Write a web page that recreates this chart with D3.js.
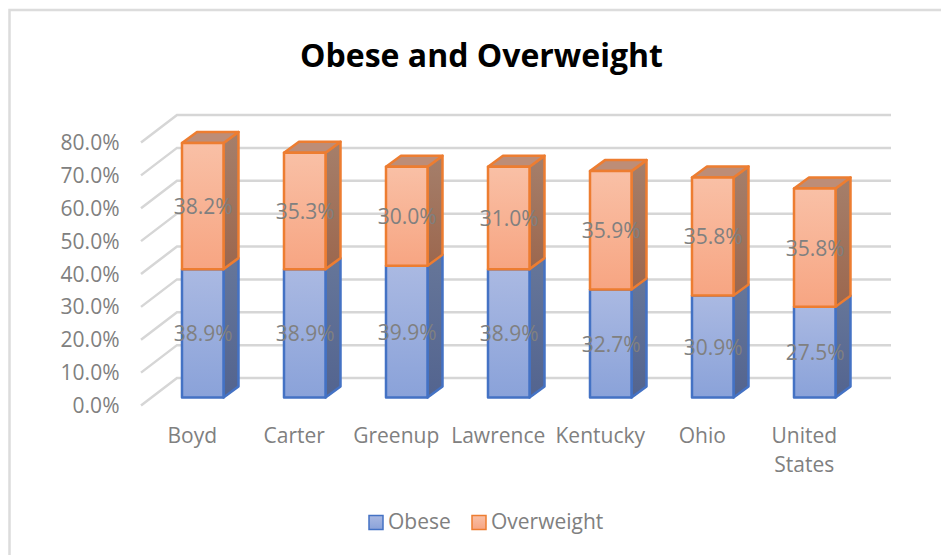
<!DOCTYPE html>
<html>
<head>
<meta charset="utf-8">
<script src="https://cdn.jsdelivr.net/npm/d3@7"></script>
<style>
  html, body { margin: 0; background: #fff; overflow: hidden; }
  svg { display: block; }
  text { font-family: "Open Sans", sans-serif; }
</style>
</head>
<body>
<div id="chart"></div>
<script>
const categories = ['Boyd', 'Carter', 'Greenup', 'Lawrence', 'Kentucky', 'Ohio', 'United States']
const obese = [38.9, 38.9, 39.9, 38.9, 32.7, 30.9, 27.5]
const overweight = [38.2, 35.3, 30.0, 31.0, 35.9, 35.8, 35.8]
const yTicks = [0, 10, 20, 30, 40, 50, 60, 70, 80]
const seriesNames = ['Obese', 'Overweight']

const width = 941
const height = 555

const svg = d3.select('#chart').append('svg')
  .attr('width', width)
  .attr('height', height)

const palette = {
  Obese: { stroke: '#4472c4', top: '#aab9e2', bottom: '#8aa2d9', sideTop: '#667699', sideBottom: '#53648f' },
  Overweight: { stroke: '#ed7d31', top: '#f9c0a6', bottom: '#f7a582', sideTop: '#a57f6b', sideBottom: '#9c674e', cap: '#bd8d77' }
}

const defs = svg.append('defs')
function addGradient (id, from, to) {
  const gradient = defs.append('linearGradient')
    .attr('id', id)
    .attr('x1', 0).attr('y1', 0)
    .attr('x2', 0).attr('y2', 1)
  gradient.append('stop').attr('offset', '0%').attr('stop-color', from)
  gradient.append('stop').attr('offset', '100%').attr('stop-color', to)
}
seriesNames.forEach(name => {
  addGradient(`front-${name}`, palette[name].top, palette[name].bottom)
  addGradient(`side-${name}`, palette[name].sideTop, palette[name].sideBottom)
})

// only the top and left edges of the chart frame are in the picture
svg.append('path')
  .attr('d', `M9.5,${height}V10H${width}`)
  .attr('fill', 'none')
  .attr('stroke', '#dcdcdc')
  .attr('stroke-width', 2.5)

svg.append('text')
  .attr('x', 481.5)
  .attr('y', 66.5)
  .attr('text-anchor', 'middle')
  .attr('font-size', 32)
  .attr('font-weight', 700)
  .attr('fill', '#000')
  .text('Obese and Overweight')

// the plot is a box seen in oblique projection, y is the front plane of the floor
const y = d3.scaleLinear().domain([0, 80]).range([405.5, 142.5])
const wallDepth = { x: 36, y: -27.5 }
const wallLeft = 141
const wallRight = 891

// bars sit a bit inside the depth of the box
const x = d3.scaleBand()
  .domain(categories)
  .range([151.75, 865.75])
  .paddingInner(0.593)
  .paddingOuter(0.2965)
const barDepth = { x: 15, y: -11 }
const barFloor = 397.5
const barScale = d3.scaleLinear().domain([0, 80]).range([barFloor, barFloor - 264])

const grid = svg.append('g').attr('class', 'grid')
  .attr('fill', 'none')
  .attr('stroke', '#d6d6d6')
  .attr('stroke-width', 2.5)

grid.selectAll('path')
  .data(yTicks)
  .join('path')
  .attr('d', d => {
    const front = y(d)
    const back = front + wallDepth.y
    return `M${wallLeft},${front}L${wallLeft + wallDepth.x},${back}L${wallRight},${back}`
  })

svg.append('g').selectAll('text')
  .data(yTicks)
  .join('text')
  .attr('x', 119.5)
  .attr('y', d => y(d) + 7.5)
  .attr('text-anchor', 'end')
  .attr('font-size', 21)
  .attr('fill', '#808080')
  .text(d => `${d3.format('.1f')(d)}%`)

const stackedData = categories.map((name, i) => ({ name, Obese: obese[i], Overweight: overweight[i] }))
const stacks = d3.stack().keys(seriesNames)(stackedData)

const barGroups = svg.append('g').selectAll('g')
  .data(stacks)
  .join('g')
  .attr('stroke-width', 2.5)
  .attr('stroke-linejoin', 'round')
  .attr('stroke', d => palette[d.key].stroke)

barGroups.each(function (series) {
  const group = d3.select(this)
  const name = series.key
  const segments = group.selectAll('g')
    .data(series)
    .join('g')

  segments.append('path')
    .attr('fill', `url(#side-${name})`)
    .attr('d', d => {
      const right = x(d.data.name) + x.bandwidth()
      const y0 = barScale(d[0])
      const y1 = barScale(d[1])
      return `M${right},${y0}L${right + barDepth.x},${y0 + barDepth.y}L${right + barDepth.x},${y1 + barDepth.y}L${right},${y1}Z`
    })

  if (name === 'Overweight') {
    segments.append('path')
      .attr('fill', palette[name].cap)
      .attr('d', d => {
        const left = x(d.data.name)
        const right = left + x.bandwidth()
        const top = barScale(d[1])
        return `M${left},${top}L${left + barDepth.x},${top + barDepth.y}L${right + barDepth.x},${top + barDepth.y}L${right},${top}Z`
      })
  }

  segments.append('rect')
    .attr('fill', `url(#front-${name})`)
    .attr('x', d => x(d.data.name))
    .attr('y', d => barScale(d[1]))
    .attr('width', x.bandwidth())
    .attr('height', d => barScale(d[0]) - barScale(d[1]))
})

// value labels go on top of every bar
svg.append('g').selectAll('g')
  .data(stacks)
  .join('g')
  .selectAll('text')
  .data(d => d)
  .join('text')
  .attr('x', d => x(d.data.name) + x.bandwidth() / 2 + 0.5)
  .attr('y', d => barScale((d[0] + d[1]) / 2) + 8)
  .attr('text-anchor', 'middle')
  .attr('font-size', 21)
  .attr('fill', '#808080')
  .text(d => `${d3.format('.1f')(d[1] - d[0])}%`)

// category labels, long names break on two lines
svg.append('g').selectAll('text')
  .data(categories)
  .join('text')
  .attr('x', d => x(d) + x.bandwidth() / 2 - 10.5)
  .attr('y', 443)
  .attr('text-anchor', 'middle')
  .attr('font-size', 21)
  .attr('fill', '#808080')
  .each(function (d) {
    const words = d === 'United States' ? d.split(' ') : [d]
    const label = d3.select(this)
    const cx = label.attr('x')
    words.forEach((word, i) => {
      label.append('tspan')
        .attr('x', cx)
        .attr('dy', i ? 29 : 0)
        .text(word)
    })
  })

const legendX = d3.scaleOrdinal().domain(seriesNames).range([369, 472])
const legend = svg.append('g').selectAll('g')
  .data(seriesNames)
  .join('g')
  .attr('transform', d => `translate(${legendX(d)},515.5)`)

legend.append('rect')
  .attr('width', 14)
  .attr('height', 14)
  .attr('fill', d => `url(#front-${d})`)
  .attr('stroke', d => palette[d].stroke)
  .attr('stroke-width', 1.5)

legend.append('text')
  .attr('x', 19)
  .attr('y', 13)
  .attr('font-size', 21)
  .attr('fill', '#808080')
  .text(d => d)
</script>
</body>
</html>
